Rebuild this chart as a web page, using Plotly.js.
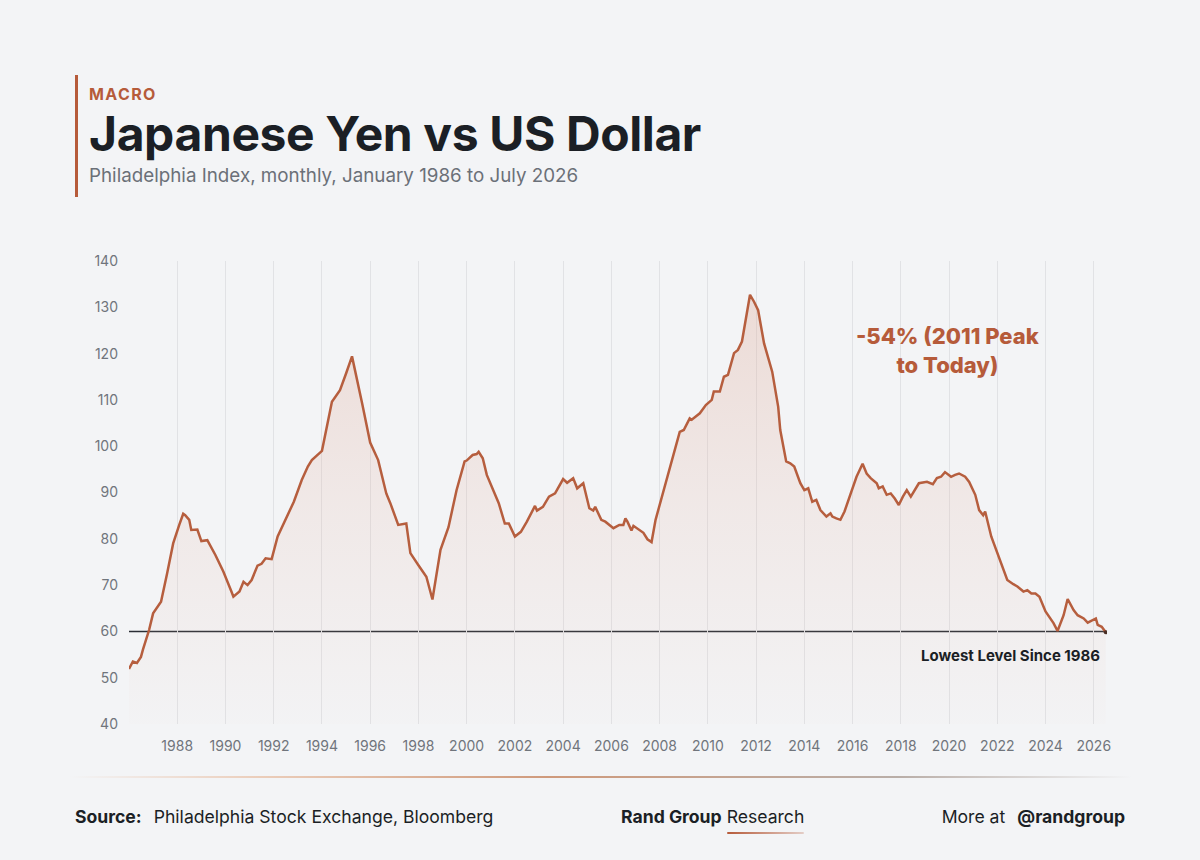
<!DOCTYPE html>
<html>
<head>
<meta charset="utf-8">
<script src="https://cdn.plot.ly/plotly-3.0.1.min.js"></script>
<style>
  html, body { margin: 0; padding: 0; background: #F3F4F6; }
  #wrap { position: relative; width: 1200px; height: 860px; overflow: hidden; font-family: Inter, "Noto Sans", sans-serif; }
  #chart { position: absolute; left: 0; top: 0; width: 1200px; height: 860px; }
  .ov { position: absolute; white-space: nowrap; pointer-events: none; line-height: 1; }
  .accent { left: 75px; top: 75px; width: 3px; height: 122px; background: #B65B3A; }
  .kicker { left: 89px; top: 86px; font-size: 16px; font-weight: 700; letter-spacing: 1.4px; color: #B65B3A; }
  .title { left: 89px; top: 110px; font-size: 48px; font-weight: 700; letter-spacing: -0.4px; color: #1B1F25; }
  .subtitle { left: 89px; top: 167px; font-size: 18.8px; font-weight: 400; color: #6B7078; }
  .rule { left: 70px; top: 776px; width: 1062px; height: 2px;
          background: linear-gradient(to right, rgba(233,201,181,0) 0%, #EBCDBA 18%, #CF9A7C 45%, #B9AEA8 78%, rgba(190,190,190,0) 100%); }
  .foot { top: 808px; font-size: 17.6px; color: #1B1F25; }
  .foot b { font-weight: 700; }
  .src { left: 75px; }
  .src .gap { display: inline-block; width: 12px; }
  .brand { left: 621px; }
  .brand .u { position: relative; }
  .brand .u::after { content: ""; position: absolute; left: 0; right: 0; bottom: -7px; height: 2px;
          background: linear-gradient(to right, #B65B3A, rgba(182,91,58,0.25)); border-radius: 1px; }
  .more { right: 75px; }
  .more .gap { display: inline-block; width: 12px; }
</style>
</head>
<body>
<div id="wrap">
  <div id="chart"></div>
  <div class="ov accent"></div>
  <div class="ov kicker">MACRO</div>
  <div class="ov title">Japanese Yen vs US Dollar</div>
  <div class="ov subtitle">Philadelphia Index, monthly, January 1986 to July 2026</div>
  <div class="ov rule"></div>
  <div class="ov foot src"><b>Source:</b><span class="gap"></span>Philadelphia Stock Exchange, Bloomberg</div>
  <div class="ov foot brand"><b>Rand Group</b> <span class="u">Research</span></div>
  <div class="ov foot more">More at<span class="gap"></span><b>@randgroup</b></div>
</div>
<script>
// Philadelphia yen index (XDN), monthly readings
const months = [
  '1986-01','1986-03','1986-05','1986-07','1986-08','1986-11','1987-01','1987-05','1987-08','1987-11',
  '1988-02','1988-04','1988-05','1988-07','1988-08','1988-11','1989-01','1989-04','1989-08','1989-12',
  '1990-04','1990-05','1990-08','1990-10','1990-12','1991-02','1991-05','1991-07','1991-09','1991-12',
  '1992-03','1992-08','1992-11','1993-03','1993-06','1993-08','1993-11','1994-01','1994-06','1994-10',
  '1995-01','1995-04','1995-09','1996-01','1996-05','1996-09','1996-11','1997-03','1997-07','1997-09',
  '1998-01','1998-05','1998-08','1998-12','1999-04','1999-08','1999-12','2000-01','2000-04','2000-06',
  '2000-07','2000-09','2000-11','2001-04','2001-05','2001-08','2001-10','2002-01','2002-04','2002-07',
  '2002-11','2002-12','2003-03','2003-06','2003-09','2004-01','2004-03','2004-06','2004-08','2004-11',
  '2005-02','2005-04','2005-05','2005-08','2005-10','2006-02','2006-05','2006-07','2006-08','2006-09',
  '2006-11','2006-12','2007-03','2007-05','2007-07','2007-09','2007-11','2008-03','2008-06','2008-08',
  '2008-11','2009-01','2009-04','2009-05','2009-09','2009-12','2010-03','2010-04','2010-07','2010-09',
  '2010-11','2011-02','2011-04','2011-06','2011-08','2011-10','2011-12','2012-02','2012-05','2012-09',
  '2012-12','2013-01','2013-04','2013-06','2013-08','2013-11','2014-01','2014-03','2014-05','2014-07',
  '2014-09','2014-12','2015-02','2015-03','2015-05','2015-07','2015-09','2015-11','2016-03','2016-06',
  '2016-08','2016-10','2017-01','2017-02','2017-04','2017-06','2017-08','2017-10','2017-12','2018-02',
  '2018-04','2018-06','2018-08','2018-10','2019-02','2019-05','2019-07','2019-09','2019-11','2020-02',
  '2020-04','2020-06','2020-09','2020-11','2021-02','2021-04','2021-06','2021-07','2021-10','2022-01',
  '2022-04','2022-06','2022-09','2022-11','2023-02','2023-04','2023-06','2023-08','2023-10','2024-01',
  '2024-05','2024-07','2024-10','2024-12','2025-03','2025-05','2025-08','2025-10','2026-02','2026-03',
  '2026-05','2026-07'
];
const indexValues = [
  51.9, 53.5, 53.2, 54.5, 56.1, 60.3, 63.9, 66.4, 72.5, 79.0,
  83.0, 85.4, 85.1, 84.1, 81.9, 82.0, 79.5, 79.7, 76.5, 72.9,
  68.6, 67.5, 68.6, 70.7, 70.0, 71.1, 74.2, 74.6, 75.8, 75.6,
  80.5, 85.1, 88.0, 92.7, 95.6, 97.0, 98.1, 99.0, 109.6, 112.1,
  115.7, 119.4, 109.3, 100.8, 97.0, 89.8, 87.7, 83.0, 83.3, 76.9,
  74.3, 71.8, 66.9, 77.6, 82.5, 90.5, 96.7, 96.9, 98.1, 98.3,
  98.8, 97.4, 93.8, 88.4, 87.7, 83.3, 83.3, 80.5, 81.5, 83.7,
  87.1, 86.1, 86.9, 89.1, 89.8, 92.9, 92.1, 93.1, 90.9, 92.0,
  86.6, 86.1, 86.9, 84.1, 83.7, 82.3, 83.0, 83.0, 84.4, 83.7,
  81.8, 82.8, 81.9, 81.3, 79.9, 79.3, 84.1, 90.5, 94.9, 98.3,
  103.1, 103.5, 106.0, 105.7, 107.1, 108.9, 110.0, 111.8, 111.8, 115.0,
  115.4, 120.1, 120.8, 122.6, 128.0, 132.7, 131.2, 129.4, 122.2, 116.1,
  108.5, 103.5, 96.7, 96.3, 95.6, 92.0, 90.5, 90.9, 88.0, 88.4,
  86.2, 84.8, 85.5, 84.8, 84.4, 84.1, 85.9, 88.4, 93.4, 96.2,
  94.1, 93.1, 92.0, 90.9, 91.3, 89.5, 89.8, 88.7, 87.3, 89.1,
  90.5, 89.1, 90.5, 92.0, 92.3, 91.8, 93.1, 93.4, 94.4, 93.4,
  93.8, 94.1, 93.4, 92.3, 89.5, 86.2, 85.1, 85.9, 80.5, 76.9,
  73.3, 71.1, 70.2, 69.7, 68.6, 68.9, 68.2, 68.2, 67.5, 64.3,
  61.8, 60.1, 63.5, 67.0, 64.6, 63.5, 62.8, 61.9, 62.8, 61.4,
  61.0, 59.8
];
const floorLevel = 60;
const tickYears = [1986, 1988, 1990, 1992, 1994, 1996, 1998, 2000, 2002, 2004, 2006,
                   2008, 2010, 2012, 2014, 2016, 2018, 2020, 2022, 2024, 2026];
const yTicks = [40, 50, 60, 70, 80, 90, 100, 110, 120, 130, 140];
const peakNote = '-54% (2011 Peak<br>to Today)';
const floorNote = 'Lowest Level Since 1986';

const rust = '#B65E3E';
const axisFont = { family: 'Inter, "Noto Sans", sans-serif', size: 14, color: '#70757C' };
const lastIdx = months.length - 1;

const traces = [
  {
    x: months, y: indexValues, type: 'scatter', mode: 'lines',
    line: { color: rust, width: 2.5, shape: 'linear' },
    fill: 'tozeroy',
    fillgradient: {
      type: 'vertical', start: 40, stop: 135,
      colorscale: [[0, 'rgba(226,176,158,0.02)'], [0.5, 'rgba(226,176,158,0.17)'], [1, 'rgba(222,168,148,0.34)']]
    },
    hoverinfo: 'skip'
  },
  {
    x: [months[lastIdx]], y: [indexValues[lastIdx]], type: 'scatter', mode: 'markers',
    marker: { color: '#4A2F26', size: 4 }, hoverinfo: 'skip'
  }
];

const layout = {
  width: 1200, height: 860,
  margin: { l: 129, r: 93, t: 261, b: 136 },
  paper_bgcolor: 'rgba(0,0,0,0)', plot_bgcolor: 'rgba(0,0,0,0)',
  showlegend: false,
  font: axisFont,
  xaxis: {
    type: 'date',
    range: ['1986-01-01', '2026-07-20'],
    tickvals: tickYears.map(y => y + '-01-01'),
    ticktext: tickYears.map(y => (y === 1986 ? '' : String(y))),
    showgrid: true, gridcolor: '#E1E2E5', gridwidth: 1,
    zeroline: false, showline: false, ticks: '',
    ticklabelstandoff: 12, tickfont: axisFont
  },
  yaxis: {
    range: [40, 140],
    tickvals: yTicks,
    showgrid: false, zeroline: false, showline: false, ticks: '',
    ticklabelstandoff: 10, tickfont: axisFont
  },
  shapes: [
    { type: 'line', xref: 'paper', x0: 0, x1: 1, yref: 'y', y0: floorLevel, y1: floorLevel,
      line: { color: '#2A2E35', width: 1.5 }, layer: 'below' }
  ],
  annotations: [
    { x: '2019-12-20', y: 120.6, xref: 'x', yref: 'y', text: peakNote, showarrow: false,
      align: 'center',
      font: { family: 'Inter, "Noto Sans", sans-serif', size: 22, weight: 800, color: '#B65B3A' } },
    { x: '2022-07-15', y: 54.7, xref: 'x', yref: 'y', text: floorNote, showarrow: false,
      font: { family: 'Inter, "Noto Sans", sans-serif', size: 15, weight: 700, color: '#1B1F25' } }
  ]
};

Plotly.newPlot('chart', traces, layout, { staticPlot: true, displayModeBar: false });
</script>
</body>
</html>
